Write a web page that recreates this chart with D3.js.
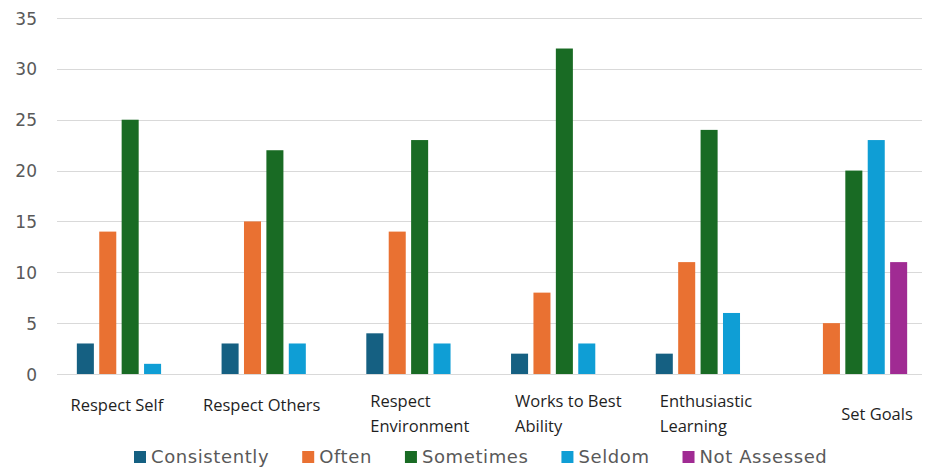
<!DOCTYPE html>
<html>
<head>
<meta charset="utf-8">
<script src="https://cdn.jsdelivr.net/npm/d3@7"></script>
<style>
  html, body { margin: 0; padding: 0; background: #ffffff; }
  svg { display: block; }
</style>
</head>
<body>
<svg id="chart" width="925" height="470"></svg>
<script>
// Categories (wrapped onto lines as shown on the axis)
const categories = [
  ["Respect Self"],
  ["Respect Others"],
  ["Respect", "Environment"],
  ["Works to Best", "Ability"],
  ["Enthusiastic", "Learning"],
  ["Set Goals"]
];

const seriesNames = ["Consistently", "Often", "Sometimes", "Seldom", "Not Assessed"];
const seriesColors = ["#156082", "#E97132", "#196B24", "#0F9ED5", "#A02B93"];

// Counts per category, one array per series
const consistently = [3, 3, 4, 2, 2, 0];
const often        = [14, 15, 14, 8, 11, 5];
const sometimes    = [25, 22, 23, 32, 24, 20];
const seldom       = [1, 3, 3, 3, 6, 23];
const notAssessed  = [0, 0, 0, 0, 0, 11];

const yTicks = [0, 5, 10, 15, 20, 25, 30, 35];

const seriesValues = [consistently, often, sometimes, seldom, notAssessed];

const svg = d3.select("#chart");

const plot = { left: 57, right: 922, top: 18, bottom: 374 };

const x0 = d3.scaleBand()
  .domain(d3.range(categories.length))
  .range([plot.left + 0.8, plot.right + 4.2])
  .paddingInner(0.226)
  .paddingOuter(0.113);

const x1 = d3.scaleBand()
  .domain(d3.range(seriesNames.length))
  .range([0, x0.bandwidth()])
  .paddingInner(0.24)
  .paddingOuter(0.12);

const y = d3.scaleLinear().domain([0, 35]).range([plot.bottom, plot.top]);

// Gridlines
svg.append("g")
  .selectAll("line")
  .data(yTicks)
  .join("line")
  .attr("x1", plot.left)
  .attr("x2", plot.right)
  .attr("y1", d => Math.round(y(d)) + 0.5)
  .attr("y2", d => Math.round(y(d)) + 0.5)
  .attr("stroke", "#d9d9d9")
  .attr("stroke-width", 1);

// Y axis labels
const yAxis = d3.axisLeft(y).tickValues(yTicks).tickSize(0).tickPadding(0);
const gy = svg.append("g")
  .attr("transform", `translate(37,0)`)
  .call(yAxis);
gy.select(".domain").remove();
gy.selectAll("text")
  .attr("font-family", "DejaVu Sans, sans-serif")
  .attr("font-size", 17)
  .attr("fill", "#595959")
  .attr("text-anchor", "end")
  .attr("dy", "0.36em");

// Bars
const rows = [];
categories.forEach((c, i) => {
  seriesValues.forEach((vals, s) => {
    rows.push({ cat: i, series: s, value: vals[i] });
  });
});

svg.append("g")
  .selectAll("rect")
  .data(rows.filter(d => d.value > 0))
  .join("rect")
  .attr("x", d => x0(d.cat) + x1(d.series))
  .attr("y", d => y(d.value))
  .attr("width", x1.bandwidth())
  .attr("height", d => y(0) - y(d.value))
  .attr("fill", d => seriesColors[d.series]);

// Category labels: single-line labels centred under their bars,
// wrapped labels left-aligned near the start of the group
const labelG = svg.append("g")
  .attr("font-family", "Open Sans, sans-serif")
  .attr("font-size", 16.5)
  .attr("font-weight", 500)
  .attr("fill", "#1f1f1f");

categories.forEach((lines, i) => {
  const present = seriesValues.map((v, s) => ({ s, v: v[i] })).filter(d => d.v > 0);
  const first = x0(i) + x1(present[0].s);
  const last = x0(i) + x1(present[present.length - 1].s) + x1.bandwidth();
  const t = labelG.append("text");
  if (lines.length === 1) {
    t.attr("x", (first + last) / 2 + (i === categories.length - 1 ? 12 : -2))
      .attr("y", i === categories.length - 1 ? 414 : 405)
      .attr("dy", "0.35em")
      .attr("text-anchor", "middle")
      .text(lines[0]);
  } else {
    lines.forEach((ln, k) => {
      t.append("tspan")
        .attr("x", first + 4)
        .attr("y", 401 + k * 25)
        .attr("dy", "0.35em")
        .attr("text-anchor", "start")
        .text(ln);
    });
  }
});

// Legend
const legend = svg.append("g")
  .attr("font-family", "DejaVu Sans, sans-serif")
  .attr("font-size", 18)
  .attr("letter-spacing", 0.6)
  .attr("fill", "#595959");

let lx = 134;
seriesNames.forEach((name, s) => {
  const item = legend.append("g").attr("transform", `translate(${lx},457)`);
  item.append("rect")
    .attr("x", 0).attr("y", -6)
    .attr("width", 12).attr("height", 12)
    .attr("fill", seriesColors[s]);
  const txt = item.append("text")
    .attr("x", 17)
    .attr("y", 0)
    .attr("dy", "0.35em")
    .text(name);
  const w = txt.node().getComputedTextLength();
  lx += 17 + w + 33;
});
</script>
</body>
</html>
